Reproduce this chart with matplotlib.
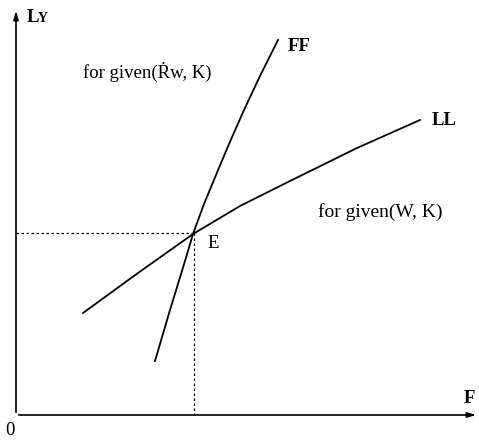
import matplotlib
matplotlib.use("Agg")
import matplotlib.pyplot as plt

# Curves (pixel coordinates, y grows downward)
ff_x = [155, 170, 185, 193, 204, 216, 229, 244, 260, 278]
ff_y = [361, 310, 261, 234, 204, 175, 144, 110, 76, 40]
ll_x = [83, 138, 193, 240, 290, 357, 420]
ll_y = [313, 273, 234, 206, 181, 148, 120]

# Equilibrium point E and the axis origin
e_x, e_y = 194, 233
origin_x, origin_y = 16, 415

SERIF = ["Liberation Serif", "DejaVu Serif"]


def main():
    fig = plt.figure(figsize=(4.79, 4.41), dpi=100)
    ax = fig.add_axes([0, 0, 1, 1])
    ax.set_xlim(0, 479)
    ax.set_ylim(441, 0)
    ax.axis("off")

    # axes with arrows
    arrow = dict(arrowstyle="-|>,head_length=0.5,head_width=0.15",
                 color="black", lw=1.2)
    ax.annotate("", xy=(origin_x, 8), xytext=(origin_x, origin_y), arrowprops=arrow)
    ax.annotate("", xy=(479, origin_y), xytext=(origin_x, origin_y), arrowprops=arrow)

    # curves
    ax.plot(ff_x, ff_y, color="black", lw=1.3, solid_joinstyle="round")
    ax.plot(ll_x, ll_y, color="black", lw=1.3, solid_joinstyle="round")

    # dotted guides to E
    ax.plot([origin_x, e_x], [e_y, e_y], color="black", lw=0.9, ls=(0, (2, 2)))
    ax.plot([e_x, e_x], [e_y, origin_y], color="black", lw=0.9, ls=(0, (2, 2)))

    fs = 13.5
    ax.text(27, 22, "L", family=SERIF, fontsize=fs, fontweight="bold")
    ax.text(38, 22, "Y", family=SERIF, fontsize=10, fontweight="bold")
    ax.text(83, 78, "for given(\u1e58w, K)", family=SERIF, fontsize=fs)
    ax.text(288, 51, "FF", family=SERIF, fontsize=fs, fontweight="bold")
    ax.text(432, 125, "LL", family=SERIF, fontsize=fs, fontweight="bold")
    ax.text(318, 217, "for given(W, K)", family=SERIF, fontsize=14)
    ax.text(207, 248, "E", family=SERIF, fontsize=fs)
    ax.text(464, 403, "F", family=SERIF, fontsize=fs, fontweight="bold")
    ax.text(5, 435, "0", family=SERIF, fontsize=fs)

    fig.savefig("out.png", dpi=100)


if __name__ == "__main__":
    main()
